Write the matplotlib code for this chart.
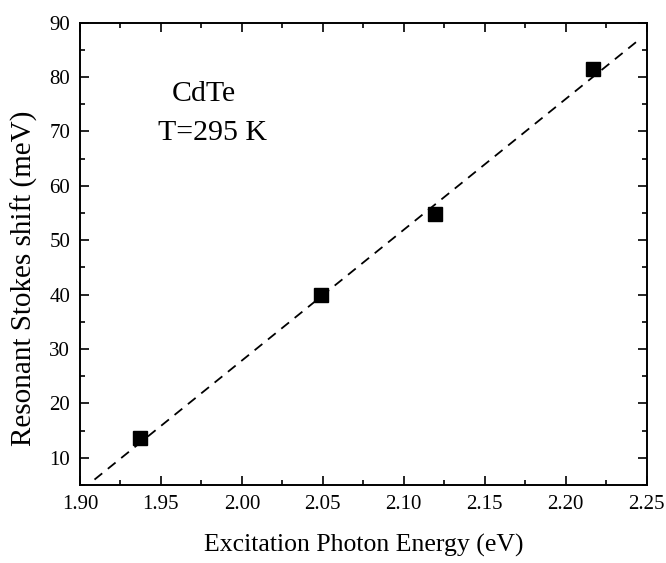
import matplotlib
matplotlib.use("Agg")
import matplotlib.pyplot as plt
from matplotlib.ticker import MultipleLocator, FormatStrFormatter

#data
energy = [1.937, 2.049, 2.119, 2.217]
shift = [13.6, 39.9, 54.8, 81.5]
#dashed linear fit, end points
fit_x = [1.909, 2.245]
fit_y = [6.0, 86.8]

plt.rcParams['font.family'] = ['Liberation Serif', 'DejaVu Serif']

fig = plt.figure(figsize=(6.66, 5.63), dpi=100)
ax = fig.add_axes([0.120, 0.1385, 0.851, 0.8212])

ax.plot(fit_x, fit_y, color='black', lw=1.3, dashes=(5.5, 4))
ax.plot(energy, shift, 's', color='black', ms=9.5)

ax.set_xlim(1.90, 2.25)
ax.set_ylim(5, 90)
ax.xaxis.set_major_locator(MultipleLocator(0.05))
ax.xaxis.set_minor_locator(MultipleLocator(0.025))
ax.yaxis.set_major_locator(MultipleLocator(10))
ax.yaxis.set_minor_locator(MultipleLocator(5))
ax.xaxis.set_major_formatter(FormatStrFormatter('%.2f'))

ax.tick_params(which='both', direction='in', top=True, right=True, labelsize=15, width=1.2)
ax.tick_params(which='major', length=6.5, pad=7)
ax.tick_params(which='minor', length=3.5)
for s in ax.spines.values():
    s.set_linewidth(1.4)

ax.set_xlabel('Excitation Photon Energy (eV)', fontsize=18.5)
ax.set_ylabel('Resonant Stokes shift (meV)', fontsize=21)
ax.xaxis.set_label_coords(0.5, -0.105)
ax.yaxis.set_label_coords(-0.074, 0.448)

ax.text(0.162, 0.8306, 'CdTe', transform=ax.transAxes, fontsize=21.5, ha='left', va='baseline')
ax.text(0.137, 0.746, 'T=295 K', transform=ax.transAxes, fontsize=21.5, ha='left', va='baseline')

fig.savefig('out.png', dpi=100)
